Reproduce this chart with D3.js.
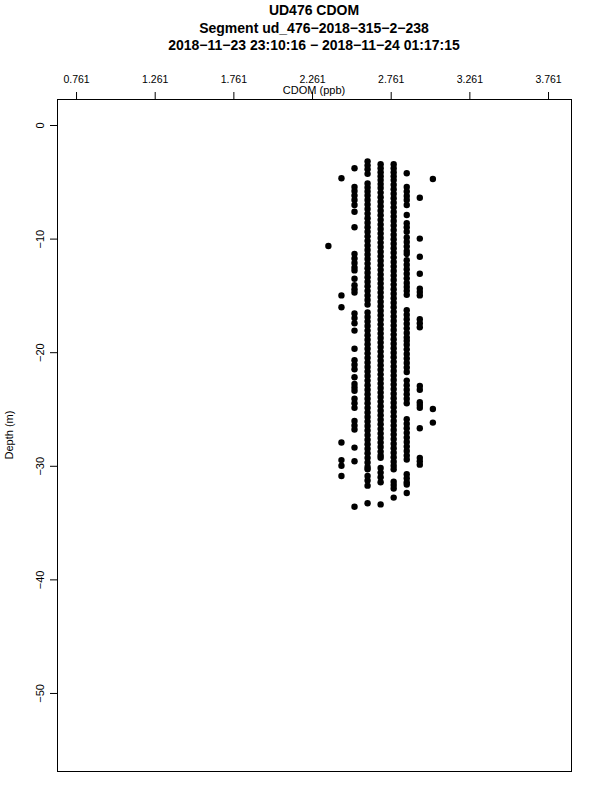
<!DOCTYPE html>
<html>
<head>
<meta charset="utf-8">
<script src="https://cdn.jsdelivr.net/npm/d3@7"></script>
<style>
  body { margin: 0; background: #fff; }
  svg { display: block; font-family: "Liberation Sans", Arial, sans-serif; }
</style>
</head>
<body>
<svg id="chart" width="600" height="800"></svg>
<script>
const titleLines = [
  "UD476 CDOM",
  "Segment ud_476\u22122018\u2212315\u22122\u2212238",
  "2018\u221211\u221223 23:10:16 \u2212 2018\u221211\u221224 01:17:15"
];
const xTicks = [0.761, 1.261, 1.761, 2.261, 2.761, 3.261, 3.761];
const yTicks = [0, -10, -20, -30, -40, -50];

// CDOM levels (ppb), one per column of dots
const cdomLevels = [2.365, 2.448, 2.531, 2.614, 2.697, 2.780, 2.863, 2.946, 3.029];

// depths (m) read per column
const depthsA = [-10.65];
const depthsB = [-4.69, -15.0, -16.05, -27.95, -29.5, -30.0, -30.9];
const depthsC = [-3.81, -5.45, -5.8, -6.2, -6.6, -7.04, -7.63, -9.0,
  -11.35, -11.75, -12.15, -12.55, -12.8, -13.53, -14.1, -14.45, -14.75,
  -16.6, -17.0, -17.45, -18.1, -19.7, -20.7, -21.1, -21.5, -22.2,
  -22.8, -23.1, -23.4, -24.1, -24.5, -24.9, -26.05, -26.45, -26.8,
  -28.4, -29.6, -33.6];
const depthsD = [-3.2, -3.55, -3.9, -4.3,
  -5.15, -5.5, -5.85, -6.2, -6.6, -7.0, -7.4, -7.8, -8.2, -8.6, -9.0, -9.4,
  -9.8, -10.2, -10.6, -11.0, -11.4, -11.8, -12.2, -12.6, -13.0, -13.4, -13.8,
  -14.2, -14.6, -15.0, -15.4, -15.8,
  -16.5, -16.9, -17.3, -17.7, -18.1, -18.5, -18.9, -19.3, -19.7, -20.1, -20.5,
  -20.9, -21.3, -21.7, -22.1, -22.5, -22.9, -23.3, -23.7, -24.1, -24.5, -24.9,
  -25.3, -25.7, -26.1, -26.5, -26.9, -27.3, -27.7, -28.1, -28.5, -28.9, -29.3,
  -29.7, -30.1, -30.3,
  -30.9, -31.3, -31.75,
  -33.3];
const depthsE = [-3.45, -3.8, -4.15, -4.5, -4.85, -5.2, -5.55,
  -5.95, -6.35, -6.75, -7.15, -7.55, -7.95, -8.35, -8.75, -9.15, -9.55, -9.95,
  -10.35, -10.75, -11.15, -11.55, -11.95, -12.35, -12.75, -13.15, -13.55,
  -13.95, -14.35, -14.75, -15.15, -15.55, -15.95, -16.35, -16.75, -17.15,
  -17.55, -17.95, -18.35, -18.75, -19.15, -19.55, -19.95, -20.35, -20.75,
  -21.15, -21.55, -21.95, -22.35, -22.75, -23.15, -23.55, -23.95, -24.35,
  -24.75, -25.15, -25.55, -25.95, -26.35, -26.75, -27.15, -27.55, -27.95,
  -28.35, -28.75, -29.1, -29.3,
  -30.2, -30.6, -31.0, -31.45,
  -33.4];
const depthsF = [-3.45, -3.8, -4.15, -4.5, -4.85, -5.25, -5.65, -6.05, -6.45,
  -6.85, -7.25, -7.65, -8.05, -8.45, -8.85, -9.25, -9.65, -10.05, -10.45,
  -10.85, -11.25, -11.65, -12.05, -12.45, -12.85, -13.25, -13.65, -14.05,
  -14.45, -14.85, -15.25, -15.65, -16.05, -16.45, -16.85, -17.25, -17.65,
  -18.05, -18.45, -18.85, -19.25, -19.65, -20.05, -20.45, -20.85, -21.25,
  -21.65, -22.05, -22.45, -22.85, -23.25, -23.65, -24.05, -24.45, -24.85,
  -25.25, -25.65, -26.05, -26.45, -26.85, -27.25, -27.65, -28.05, -28.45,
  -28.85, -29.25, -29.65, -30.0, -30.3,
  -31.4, -31.7, -32.0,
  -32.8];
const depthsG = [-4.25, -5.45, -5.85, -6.25, -6.6, -7.04, -7.92,
  -8.65, -9.0, -9.4, -9.9, -10.3, -10.7, -11.1, -11.35,
  -11.9, -12.3, -12.7, -13.1, -13.5, -13.9, -14.25, -14.6, -14.95,
  -16.3, -16.7, -17.1, -17.5, -17.9, -18.3, -18.7, -19.0,
  -19.35, -19.75, -20.15, -20.55, -20.95, -21.35, -21.75,
  -22.5, -22.9, -23.3, -23.7, -24.1, -24.5,
  -25.9, -26.3, -26.7, -27.1, -27.5, -27.9, -28.3, -28.7, -29.1, -29.45,
  -30.75, -31.1, -31.45, -31.65, -32.4];
const depthsH = [-6.4, -10.0, -11.6, -13.1, -14.4, -14.7, -15.0, -17.1, -17.45,
  -17.8, -22.97, -23.3, -24.4, -24.65, -24.9, -26.7, -29.3, -29.6, -29.9];
const depthsI = [-4.75, -25.0, -26.2];

const depthColumns = [depthsA, depthsB, depthsC, depthsD, depthsE, depthsF, depthsG, depthsH, depthsI];

const points = depthColumns.flatMap((col, i) =>
  col.map((depth) => ({ cdom: cdomLevels[i], depth }))
);

const svg = d3.select("#chart");
const box = { left: 57, right: 571, top: 99, bottom: 771 };

const x = d3.scaleLinear().domain([0.640, 3.907]).range([box.left, box.right]);
const y = d3.scaleLinear().domain([2.29, -56.87]).range([box.top, box.bottom]);

// titles
svg.append("g")
  .selectAll("text")
  .data(titleLines)
  .join("text")
  .attr("x", (box.left + box.right) / 2)
  .attr("y", (d, i) => 15 + i * 17.5)
  .attr("text-anchor", "middle")
  .attr("font-size", 14)
  .attr("font-weight", "bold")
  .text((d) => d);

// top axis
const xAxis = svg.append("g")
  .attr("transform", `translate(0,${box.top})`)
  .call(d3.axisTop(x).tickValues(xTicks).tickSize(7).tickPadding(9)
    .tickFormat(d3.format(".3f")));
xAxis.select(".domain").remove();
xAxis.selectAll("text").attr("font-size", 10.5).attr("font-family", "Liberation Sans, Arial, sans-serif");

svg.append("text")
  .attr("x", (box.left + box.right) / 2)
  .attr("y", 94)
  .attr("text-anchor", "middle")
  .attr("font-size", 11)
  .text("CDOM (ppb)");

// left axis
const yAxis = svg.append("g")
  .attr("transform", `translate(${box.left},0)`)
  .call(d3.axisLeft(y).tickValues(yTicks).tickSize(7).tickFormat(d3.format("d")));
yAxis.select(".domain").remove();
yAxis.selectAll("text")
  .attr("font-size", 11)
  .attr("font-family", "Liberation Sans, Arial, sans-serif")
  .attr("text-anchor", "middle")
  .attr("x", null)
  .attr("dy", null)
  .attr("transform", "translate(-17,0) rotate(-90)")
  .attr("dominant-baseline", "central");

svg.append("text")
  .attr("transform", `translate(13,${(box.top + box.bottom) / 2}) rotate(-90)`)
  .attr("text-anchor", "middle")
  .attr("font-size", 11)
  .text("Depth (m)");

// plot frame
svg.append("rect")
  .attr("x", box.left + 0.5)
  .attr("y", box.top + 0.5)
  .attr("width", box.right - box.left)
  .attr("height", box.bottom - box.top)
  .attr("fill", "none")
  .attr("stroke", "#000");

// dots
svg.append("g")
  .selectAll("circle")
  .data(points)
  .join("circle")
  .attr("cx", (d) => x(d.cdom))
  .attr("cy", (d) => y(d.depth))
  .attr("r", 3.2)
  .attr("fill", "#000");
</script>
</body>
</html>
